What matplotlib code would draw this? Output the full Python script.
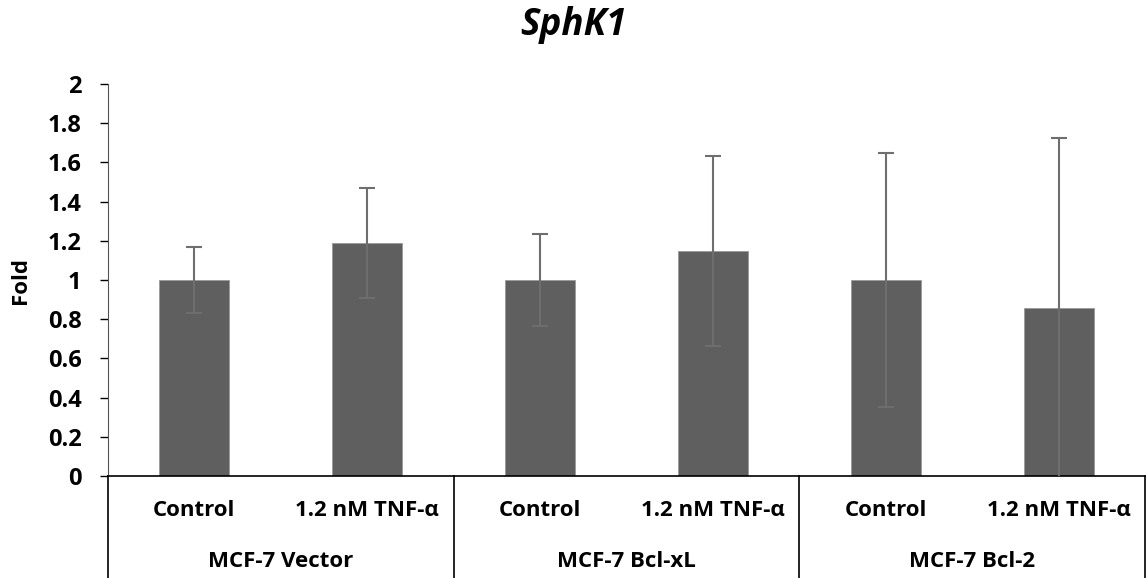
import numpy as np
import matplotlib.pyplot as plt
import matplotlib.transforms as mtransforms

plt.rcParams["font.family"] = ["Open Sans", "DejaVu Sans"]

treatments = ["Control", "1.2 nM TNF-α", "Control", "1.2 nM TNF-α", "Control", "1.2 nM TNF-α"]
cell_lines = ["MCF-7 Vector", "MCF-7 Bcl-xL", "MCF-7 Bcl-2"]
fold = [1.0, 1.19, 1.0, 1.15, 1.0, 0.855]
err = [0.17, 0.28, 0.235, 0.485, 0.65, 0.87]

bar_color = "#5f5f5f"
err_color = "#6e6e6e"

fig = plt.figure(figsize=(11.46, 5.78), dpi=100)
ax = fig.add_axes([108 / 1146, 102 / 578, 1037 / 1146, 392 / 578])

x = np.arange(len(fold))
ax.bar(x, fold, width=0.405, color=bar_color, edgecolor="#9a9a9a", linewidth=0.6, zorder=2)
ax.errorbar(x, fold, yerr=err, fmt="none", ecolor=err_color, elinewidth=1.5,
            capsize=6, capthick=1.5, zorder=3, clip_on=True)

ax.set_xlim(-0.5, len(fold) - 0.5)
ax.set_ylim(0, 2)
ax.set_yticks(np.arange(0, 2.01, 0.2))
ax.set_yticklabels([f"{v:g}" for v in np.round(np.arange(0, 2.01, 0.2), 1)],
                   fontsize=17, fontweight="bold")
ax.tick_params(axis="y", length=6, width=1, direction="out", pad=13)
ax.set_xticks([])
ax.set_ylabel("Fold", fontsize=16, fontweight="bold", labelpad=12)

for side in ["top", "right"]:
    ax.spines[side].set_visible(False)
ax.spines["left"].set_color("#555555")
ax.spines["bottom"].set_color("black")
ax.spines["bottom"].set_linewidth(1.2)

fig.text(0.5, 1 - 25 / 578, "SphK1", ha="center", va="center",
         fontsize=26.5, fontweight="bold", fontstyle="italic")

# two-level category axis
trans = mtransforms.blended_transform_factory(ax.transData, ax.transAxes)
for i, lab in enumerate(treatments):
    ax.text(i, -0.087, lab, transform=trans, ha="center", va="center",
            fontsize=16, fontweight="bold")
for g, name in enumerate(cell_lines):
    ax.text(2 * g + 0.5, -0.217, name, transform=trans, ha="center", va="center",
            fontsize=16, fontweight="bold")
for b in [-0.5, 1.5, 3.5, 5.5]:
    ax.plot([b, b], [0, -0.3], transform=trans, color="black", linewidth=1.2, clip_on=False)

fig.savefig("out.png", dpi=100)
